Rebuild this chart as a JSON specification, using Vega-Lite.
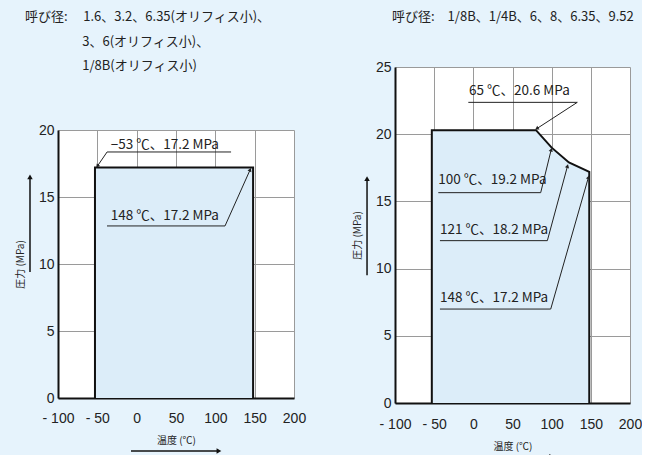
{
  "$schema": "https://vega.github.io/schema/vega-lite/v6.json",
  "padding": {"left": 15, "top": 4, "right": 0, "bottom": 0},
  "background": "#e6f3fc",
  "datasets": {
    "L_area": [{"t": -53, "p": 17.2}, {"t": 148, "p": 17.2}],
    "L_edge": [{"t": -53, "p": 0}, {"t": -53, "p": 17.2}, {"t": 148, "p": 17.2}, {"t": 148, "p": 0}],
    "L_notes": [{"t": -33, "p": 18.6, "label": "−53 ℃、17.2 MPa"}, {"t": -33, "p": 13.3, "label": "148 ℃、17.2 MPa"}],
    "L_leaders": [
      {"t": -37.6, "p": 18.36, "t2": 120, "p2": 18.36},
      {"t": -37.6, "p": 18.36, "t2": -49.5, "p2": 17.34},
      {"t": -37.7, "p": 12.84, "t2": 112.3, "p2": 12.84},
      {"t": 112.3, "p": 12.84, "t2": 144, "p2": 17.0}
    ],
    "L_tip1": [{"t": -49.5, "p": 17.34}],
    "L_tip2": [{"t": 144, "p": 17.0}],
    "L_xmarks": [{"t": -53, "label": "- 53"}, {"t": 148, "label": "148"}],
    "L_ymarks": [{"p": 17.2, "label": "17.2"}],
    "L_arrows": [{"t": -135.6, "p": 9.4, "t2": -135.6, "p2": 16.5}, {"t": -7.2, "p": -3.96, "t2": 104.6, "p2": -3.96}],
    "L_headup": [{"t": -135.6, "p": 16.5}],
    "L_headright": [{"t": 104.6, "p": -3.96}],
    "R_area": [{"t": -53, "p": 20.3}, {"t": 80, "p": 20.3}, {"t": 100, "p": 19.0}, {"t": 122, "p": 17.9}, {"t": 148, "p": 17.2}],
    "R_edge": [{"t": -53, "p": 0}, {"t": -53, "p": 20.3}, {"t": 80, "p": 20.3}, {"t": 100, "p": 19.0}, {"t": 122, "p": 17.9}, {"t": 148, "p": 17.2}, {"t": 148, "p": 0}],
    "R_notes": [
      {"t": -5.5, "p": 22.9, "label": "65 ℃、20.6 MPa"},
      {"t": -44.7, "p": 16.3, "label": "100 ℃、19.2 MPa"},
      {"t": -42.6, "p": 12.57, "label": "121 ℃、18.2 MPa"},
      {"t": -42.6, "p": 7.51, "label": "148 ℃、17.2 MPa"}
    ],
    "R_leaders": [
      {"t": -6.4, "p": 22.37, "t2": 132.7, "p2": 22.37},
      {"t": 132.7, "p": 22.37, "t2": 81.7, "p2": 20.44},
      {"t": -44.7, "p": 15.65, "t2": 86, "p2": 15.65},
      {"t": 86, "p": 15.65, "t2": 99.2, "p2": 18.8},
      {"t": -42.6, "p": 12.08, "t2": 94.5, "p2": 12.08},
      {"t": 94.5, "p": 12.08, "t2": 120, "p2": 17.58},
      {"t": -42.6, "p": 6.99, "t2": 98.8, "p2": 6.99},
      {"t": 98.8, "p": 6.99, "t2": 146.8, "p2": 16.76}
    ],
    "R_tip1": [{"t": 81.7, "p": 20.44}],
    "R_tips": [{"t": 99.2, "p": 18.8}, {"t": 120, "p": 17.58}, {"t": 146.8, "p": 16.76}],
    "R_xmarks": [{"t": -53, "label": "- 53"}, {"t": 148, "label": "148"}],
    "R_ymarks": [{"p": 20.6, "label": "20.6"}],
    "R_arrows": [{"t": -135.7, "p": 9.5, "t2": -135.7, "p2": 16.7}, {"t": -12, "p": -4.0, "t2": 100, "p2": -4.0}],
    "R_headup": [{"t": -135.7, "p": 16.7}],
    "R_headright": [{"t": 100, "p": -4.0}]
  },
  "spacing": 46,
  "hconcat": [
    {"spacing": 0, "vconcat": [
    {"width": 20, "height": 1, "data": {"values": [{"t": 0}]}, "mark": {"type": "point", "opacity": 0}, "encoding": {"x": {"field": "t", "type": "quantitative", "axis": null}}, "view": {"fill": "transparent", "stroke": null}},
    {
      "width": 236,
      "height": 268,
      "title": {
        "text": ["呼び径:\u2002\u2002\u20091.6、3.2、6.35(オリフィス小)、", "\u200b\u3000\u3000\u3000\u3000\u2009\u20093、6(オリフィス小)、", "\u200b\u3000\u3000\u3000\u3000\u2009\u20091/8B(オリフィス小)"],
        "anchor": "start", "frame": "group", "dx": -33, "offset": 50,
        "font": "Noto Sans CJK JP", "fontSize": 13, "fontWeight": "normal", "lineHeight": 24.5, "color": "#222"
      },
      "encoding": {
        "x": {"field": "t", "type": "quantitative", "scale": {"domain": [-100, 200], "nice": false, "zero": false},
          "axis": {"title": "温度 (℃)", "values": [-100, -50, 0, 50, 100, 150, 200], "labelExpr": "datum.value < 0 ? '- ' + abs(datum.value) : datum.label", "labelFlush": false, "labelPadding": 13, "titlePadding": 10}},
        "y": {"field": "p", "type": "quantitative", "scale": {"domain": [0, 20], "nice": false},
          "axis": {"title": "圧力 (MPa)", "values": [0, 5, 10, 15, 20], "labelPadding": 4, "titlePadding": 13}}
      },
      "layer": [
        {"data": {"name": "L_area"}, "mark": {"type": "area", "color": "#dcedf9", "opacity": 1}},
        {"data": {"name": "L_edge"}, "mark": {"type": "line", "color": "#111", "strokeWidth": 2}, "encoding": {"order": {"value": null}}},
        {"data": {"name": "L_leaders"}, "mark": {"type": "rule", "color": "#222", "strokeWidth": 1}, "encoding": {"x2": {"field": "t2"}, "y2": {"field": "p2"}}},
        {"data": {"name": "L_tip1"}, "mark": {"type": "point", "shape": "triangle", "angle": 217, "filled": true, "size": 18, "color": "#222", "opacity": 1}},
        {"data": {"name": "L_tip2"}, "mark": {"type": "point", "shape": "triangle", "angle": 24, "filled": true, "size": 18, "color": "#222", "opacity": 1}},
        {"data": {"name": "L_notes"}, "mark": {"type": "text", "align": "left", "baseline": "alphabetic", "font": "Noto Sans CJK JP", "fontSize": 13.5, "color": "#222"}, "encoding": {"text": {"field": "label"}}},
        {"data": {"name": "L_xmarks"}, "mark": {"type": "text", "baseline": "top", "dy": 3, "font": "Liberation Sans", "fontSize": 11, "color": "#222"}, "encoding": {"y": {"datum": 0}, "text": {"field": "label"}}},
        {"data": {"name": "L_ymarks"}, "mark": {"type": "text", "align": "right", "baseline": "middle", "dx": -4, "font": "Liberation Sans", "fontSize": 11, "color": "#222"}, "encoding": {"x": {"datum": -100}, "text": {"field": "label"}}},
        {"data": {"name": "L_arrows"}, "mark": {"type": "rule", "color": "#111", "strokeWidth": 1.5}, "encoding": {"x2": {"field": "t2"}, "y2": {"field": "p2"}}},
        {"data": {"name": "L_headup"}, "mark": {"type": "point", "shape": "triangle-up", "filled": true, "size": 30, "color": "#111", "opacity": 1}},
        {"data": {"name": "L_headright"}, "mark": {"type": "point", "shape": "triangle-right", "filled": true, "size": 30, "color": "#111", "opacity": 1}}
      ]
    }]},
    {"spacing": 0, "vconcat": [
    {"width": 20, "height": 1, "data": {"values": [{"t": 0}]}, "mark": {"type": "point", "opacity": 0}, "encoding": {"x": {"field": "t", "type": "quantitative", "axis": null}}, "view": {"fill": "transparent", "stroke": null}},
    {
      "width": 235,
      "height": 336,
      "title": {
        "text": "呼び径:\u2002\u20021/8B、1/4B、6、8、6.35、9.52",
        "anchor": "start", "frame": "group", "dx": -3, "offset": 36,
        "font": "Noto Sans CJK JP", "fontSize": 13, "fontWeight": "normal", "color": "#222"
      },
      "encoding": {
        "x": {"field": "t", "type": "quantitative", "scale": {"domain": [-100, 200], "nice": false, "zero": false},
          "axis": {"title": "温度 (℃)", "values": [-100, -50, 0, 50, 100, 150, 200], "labelExpr": "datum.value < 0 ? '- ' + abs(datum.value) : datum.label", "labelFlush": false, "labelPadding": 14, "titlePadding": 10}},
        "y": {"field": "p", "type": "quantitative", "scale": {"domain": [0, 25], "nice": false},
          "axis": {"title": "圧力 (MPa)", "values": [0, 5, 10, 15, 20, 25], "labelPadding": 4, "titlePadding": 13}}
      },
      "layer": [
        {"data": {"name": "R_area"}, "mark": {"type": "area", "color": "#dcedf9", "opacity": 1}},
        {"data": {"name": "R_edge"}, "mark": {"type": "line", "color": "#111", "strokeWidth": 2}, "encoding": {"order": {"value": null}}},
        {"data": {"name": "R_leaders"}, "mark": {"type": "rule", "color": "#222", "strokeWidth": 1}, "encoding": {"x2": {"field": "t2"}, "y2": {"field": "p2"}}},
        {"data": {"name": "R_tip1"}, "mark": {"type": "point", "shape": "triangle", "angle": 237, "filled": true, "size": 18, "color": "#222", "opacity": 1}},
        {"data": {"name": "R_tips"}, "mark": {"type": "point", "shape": "triangle", "angle": 15, "filled": true, "size": 18, "color": "#222", "opacity": 1}},
        {"data": {"name": "R_notes"}, "mark": {"type": "text", "align": "left", "baseline": "alphabetic", "font": "Noto Sans CJK JP", "fontSize": 13.5, "color": "#222"}, "encoding": {"text": {"field": "label"}}},
        {"data": {"name": "R_xmarks"}, "mark": {"type": "text", "baseline": "top", "dy": 3, "font": "Liberation Sans", "fontSize": 11, "color": "#222"}, "encoding": {"y": {"datum": 0}, "text": {"field": "label"}}},
        {"data": {"name": "R_ymarks"}, "mark": {"type": "text", "align": "right", "baseline": "bottom", "dx": -14, "dy": -2, "font": "Liberation Sans", "fontSize": 11, "color": "#222"}, "encoding": {"x": {"datum": -100}, "text": {"field": "label"}}},
        {"data": {"name": "R_arrows"}, "mark": {"type": "rule", "color": "#111", "strokeWidth": 1.5}, "encoding": {"x2": {"field": "t2"}, "y2": {"field": "p2"}}},
        {"data": {"name": "R_headup"}, "mark": {"type": "point", "shape": "triangle-up", "filled": true, "size": 30, "color": "#111", "opacity": 1}},
        {"data": {"name": "R_headright"}, "mark": {"type": "point", "shape": "triangle-right", "filled": true, "size": 30, "color": "#111", "opacity": 1}}
      ]
    }]}
  ],
  "config": {
    "view": {"fill": "white", "stroke": null},
    "axis": {
      "grid": true, "gridColor": "#9a9a9a", "gridWidth": 1, "zindex": 1,
      "domainColor": "#111", "domainWidth": 2, "ticks": false,
      "labelFont": "Liberation Sans", "labelFontSize": 14, "labelColor": "#222",
      "titleFont": "Noto Sans CJK JP", "titleFontSize": 10, "titleFontWeight": "normal", "titleColor": "#222"
    }
  }
}
